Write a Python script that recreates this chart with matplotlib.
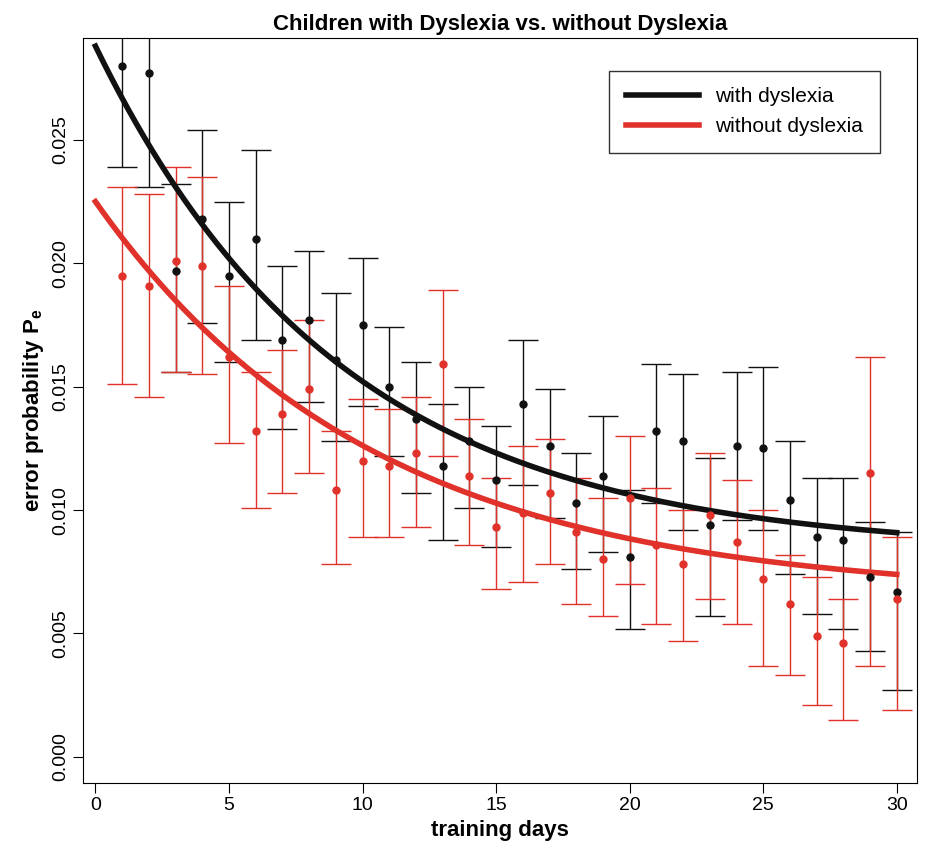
import numpy as np
import matplotlib

matplotlib.use("Agg")
import matplotlib.pyplot as plt

plt.rcParams["font.family"] = ["Liberation Sans", "DejaVu Sans"]
plt.rcParams["mathtext.fontset"] = "custom"
plt.rcParams["mathtext.bf"] = "Liberation Sans:bold"
plt.rcParams["mathtext.rm"] = "Liberation Sans"

days = np.arange(1, 31)

# with dyslexia
dys_mean = [0.0280, 0.0277, 0.0197, 0.0218, 0.0195, 0.0210, 0.0169, 0.0177, 0.0161, 0.0175,
            0.0150, 0.0137, 0.0118, 0.0128, 0.0112, 0.0143, 0.0126, 0.0103, 0.0114, 0.0081,
            0.0132, 0.0128, 0.0094, 0.0126, 0.0125, 0.0104, 0.0089, 0.0088, 0.0073, 0.0067]
dys_hi = [0.0320, 0.0318, 0.0232, 0.0254, 0.0225, 0.0246, 0.0199, 0.0205, 0.0188, 0.0202,
          0.0174, 0.0160, 0.0143, 0.0150, 0.0134, 0.0169, 0.0149, 0.0123, 0.0138, 0.0108,
          0.0159, 0.0155, 0.0121, 0.0156, 0.0158, 0.0128, 0.0113, 0.0113, 0.0095, 0.0091]
dys_lo = [0.0239, 0.0231, 0.0156, 0.0176, 0.0160, 0.0169, 0.0133, 0.0144, 0.0128, 0.0142,
          0.0122, 0.0107, 0.0088, 0.0101, 0.0085, 0.0110, 0.0097, 0.0076, 0.0083, 0.0052,
          0.0103, 0.0092, 0.0057, 0.0096, 0.0092, 0.0074, 0.0058, 0.0052, 0.0043, 0.0027]

# without dyslexia
ctl_mean = [0.0195, 0.0191, 0.0201, 0.0199, 0.0162, 0.0132, 0.0139, 0.0149, 0.0108, 0.0120,
            0.0118, 0.0123, 0.0159, 0.0114, 0.0093, 0.0099, 0.0107, 0.0091, 0.0080, 0.0105,
            0.0086, 0.0078, 0.0098, 0.0087, 0.0072, 0.0062, 0.0049, 0.0046, 0.0115, 0.0064]
ctl_hi = [0.0231, 0.0228, 0.0239, 0.0235, 0.0191, 0.0156, 0.0165, 0.0177, 0.0132, 0.0145,
          0.0141, 0.0146, 0.0189, 0.0137, 0.0113, 0.0126, 0.0129, 0.0113, 0.0105, 0.0130,
          0.0109, 0.0100, 0.0123, 0.0112, 0.0100, 0.0082, 0.0073, 0.0064, 0.0162, 0.0089]
ctl_lo = [0.0151, 0.0146, 0.0156, 0.0155, 0.0127, 0.0101, 0.0107, 0.0115, 0.0078, 0.0089,
          0.0089, 0.0093, 0.0122, 0.0086, 0.0068, 0.0071, 0.0078, 0.0062, 0.0057, 0.0070,
          0.0054, 0.0047, 0.0064, 0.0054, 0.0037, 0.0033, 0.0021, 0.0015, 0.0037, 0.0019]

# exponential fits a + b*exp(-t/tau)
fit_dys = (0.0083, 0.0205, 9.2)
fit_ctl = (0.0065, 0.0160, 10.4)

BLACK = "#111111"
RED = "#e0322a"

fig = plt.figure(figsize=(9.27, 8.64), dpi=100)
ax = fig.add_axes([0.09, 0.094, 0.899, 0.862])

def draw(mean, lo, hi, color):
    mean = np.array(mean)
    ax.errorbar(days, mean, yerr=[mean - np.array(lo), np.array(hi) - mean], fmt="o",
                color=color, ms=5, elinewidth=1, capsize=11, capthick=1)

draw(dys_mean, dys_lo, dys_hi, BLACK)
draw(ctl_mean, ctl_lo, ctl_hi, RED)

t = np.linspace(0, 30, 300)
a, b, tau = fit_dys
ax.plot(t, a + b * np.exp(-t / tau), color=BLACK, lw=4, label="with dyslexia")
a, b, tau = fit_ctl
ax.plot(t, a + b * np.exp(-t / tau), color=RED, lw=4, label="without dyslexia")

ax.set_xlim(-0.45, 30.75)
ax.set_ylim(-0.00105, 0.02913)
ax.set_xticks(range(0, 31, 5))
yt = np.arange(0, 0.0251, 0.005)
ax.set_yticks(yt)
ax.set_yticklabels([f"{v:.3f}" for v in yt], rotation=90, va="center")
ax.tick_params(labelsize=14, length=7)
ax.set_xlabel("training days", fontsize=16, fontweight="bold")
ax.set_ylabel("error probability P$_\\mathbf{e}$", fontsize=16, fontweight="bold")
ax.set_title("Children with Dyslexia vs. without Dyslexia", fontsize=16, fontweight="bold", pad=6)
h, l = ax.get_legend_handles_labels()
ax.legend(h[:2], l[:2], loc="upper right", fontsize=15, fancybox=False, edgecolor="black",
          borderpad=0.8, handlelength=3.5, bbox_to_anchor=(0.968, 0.97))

fig.savefig("out.png", dpi=100)
